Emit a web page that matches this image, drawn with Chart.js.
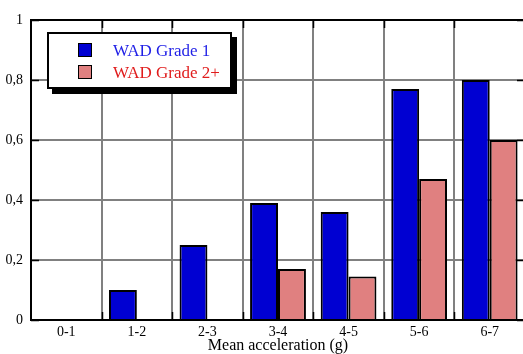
<!DOCTYPE html>
<html>
<head>
<meta charset="utf-8">
<script src="https://cdn.jsdelivr.net/npm/chart.js@4.4.1/dist/chart.umd.min.js"></script>
<style>
  html, body { margin: 0; padding: 0; background: #fff; overflow: hidden; }
  #wrap { position: relative; width: 523px; height: 354px; overflow: hidden; }
  #plot { position: absolute; left: 0; top: 0; }
  #legend {
    position: absolute; left: 47px; top: 32px; width: 181px; height: 53px;
    border: 2px solid #000; background: #fff;
    box-shadow: 5px 5px 0 #000;
    font-family: "Liberation Serif", "Times New Roman", serif; font-size: 17px;
  }
  .row { position: absolute; left: 0; height: 16px; line-height: 16px; white-space: nowrap; }
  .sw { position: absolute; left: 29px; top: 0; width: 12px; height: 12px; border: 1px solid #000; }
  .lbl { position: absolute; left: 64px; top: 0; }
</style>
</head>
<body>
<div id="wrap">
  <canvas id="plot" width="525" height="354" style="width:525px;height:354px"></canvas>
  <div id="legend"></div>
</div>
<script>
// Acceleration bins and the share of cases per WAD grade
const categories = ["0-1", "1-2", "2-3", "3-4", "4-5", "5-6", "6-7"];
const grade1 = [0, 0.10, 0.25, 0.39, 0.36, 0.77, 0.80];
const grade2plus = [0, 0, 0, 0.17, 0.145, 0.47, 0.60];
const yTicks = [0, 0.2, 0.4, 0.6, 0.8, 1];
const seriesNames = ["WAD Grade 1", "WAD Grade 2+"];
const seriesColors = ["#0000d2", "#e08080"];
const legendTextColors = ["#1f1fe6", "#e01c1c"];

const serif = "'Liberation Serif', 'Times New Roman', serif";

// Box, border ticks around the plotting area
const framePlugin = {
  id: 'frame',
  afterDatasetsDraw(chart) {
    const { ctx, chartArea: a, scales } = chart;
    ctx.save();
    ctx.strokeStyle = '#000';
    ctx.lineWidth = 2;
    ctx.strokeRect(a.left, a.top, a.right - a.left, a.bottom - a.top);
    ctx.lineWidth = 1.5;
    ctx.beginPath();
    // category boundary ticks on bottom and top
    for (let i = 1; i < categories.length; i++) {
      const x = Math.round((scales.x.getPixelForValue(i - 1) + scales.x.getPixelForValue(i)) / 2) + 0.5;
      ctx.moveTo(x, a.bottom); ctx.lineTo(x, a.bottom - 8);
      ctx.moveTo(x, a.top); ctx.lineTo(x, a.top + 8);
    }
    // value ticks on left and right
    yTicks.forEach(v => {
      const y = Math.round(scales.y.getPixelForValue(v)) + 0.5;
      ctx.moveTo(a.left, y); ctx.lineTo(a.left + 8, y);
      ctx.moveTo(a.right, y); ctx.lineTo(a.right - 8, y);
    });
    ctx.stroke();
    ctx.restore();
  }
};

const chart = new Chart(document.getElementById('plot'), {
  type: 'bar',
  data: {
    labels: categories,
    datasets: [
      { label: seriesNames[0], data: grade1, backgroundColor: seriesColors[0], borderColor: '#000', borderWidth: 2, borderSkipped: 'bottom' },
      { label: seriesNames[1], data: grade2plus, backgroundColor: seriesColors[1], borderColor: '#000', borderWidth: 2, borderSkipped: 'bottom' }
    ]
  },
  options: {
    responsive: false,
    animation: false,
    devicePixelRatio: 1,
    layout: { padding: { top: 20, right: 0, left: 0, bottom: 0 } },
    datasets: { bar: { categoryPercentage: 0.79, barPercentage: 1.0 } },
    plugins: {
      legend: { display: false },
      tooltip: { enabled: false }
    },
    scales: {
      x: {
        offset: true,
        grid: { offset: true, color: '#808080', lineWidth: 2, drawTicks: false },
        border: { display: false },
        ticks: { color: '#000', padding: 4, font: { family: serif, size: 14 } },
        title: {
          display: true, text: 'Mean acceleration (g)', color: '#000',
          padding: { top: 0, bottom: 0 }, font: { family: serif, size: 16, lineHeight: 1.0 }
        },
        afterFit(scale) { scale.height = 34; }
      },
      y: {
        min: 0, max: 1,
        afterBuildTicks(scale) { scale.ticks = yTicks.map(v => ({ value: v })); },
        grid: {
          color: ctx => (ctx.tick && (ctx.tick.value === 0 || ctx.tick.value === 1)) ? 'rgba(0,0,0,0)' : '#808080',
          lineWidth: 2, drawTicks: false
        },
        border: { display: false },
        ticks: {
          color: '#000', padding: 8, font: { family: serif, size: 14 },
          callback: v => String(Math.round(v * 10) / 10).replace('.', ',')
        },
        afterFit(scale) { scale.width = 31; }
      }
    }
  },
  plugins: [framePlugin]
});

// Legend box built from the dataset names and colours
const legend = document.getElementById('legend');
seriesNames.forEach((name, i) => {
  const row = document.createElement('div');
  row.className = 'row';
  row.style.top = (i === 0 ? 9 : 31) + 'px';
  row.style.width = '100%';
  const sw = document.createElement('div');
  sw.className = 'sw';
  sw.style.background = seriesColors[i];
  const lbl = document.createElement('span');
  lbl.className = 'lbl';
  lbl.style.color = legendTextColors[i];
  lbl.textContent = name;
  row.appendChild(sw);
  row.appendChild(lbl);
  legend.appendChild(row);
});
</script>
</body>
</html>
